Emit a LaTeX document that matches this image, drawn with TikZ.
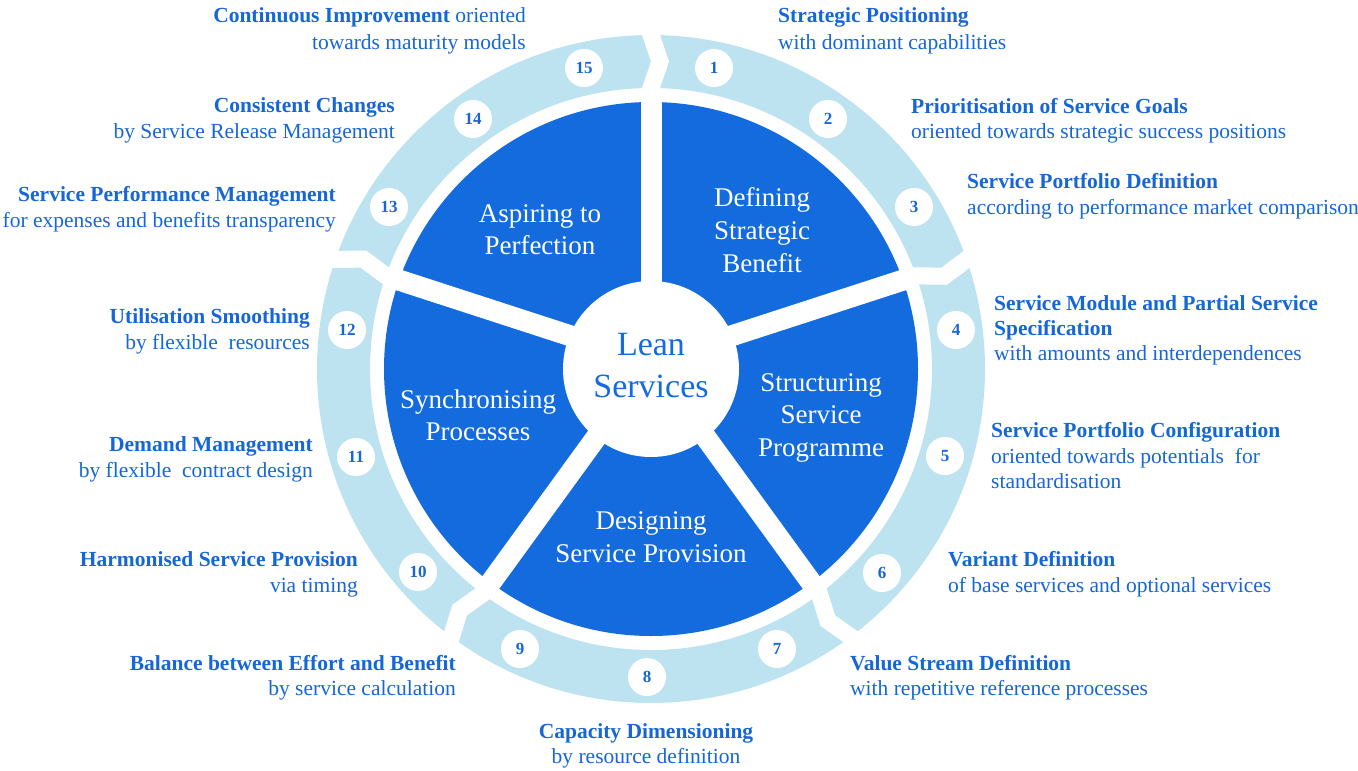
\documentclass[tikz,border=0pt]{standalone}
\usepackage{fontspec}
\setmainfont{Liberation Serif}
\usetikzlibrary{calc}
\definecolor{dkb}{RGB}{19,107,222}
\definecolor{ltb}{RGB}{190,227,240}
\definecolor{txb}{RGB}{22,102,214}
\begin{document}
\begin{tikzpicture}[x=1pt,y=1pt,
  lab/.style={inner sep=0pt, text=txb, font=\fontsize{21.5}{25.5}\selectfont},
  labr/.style={lab, anchor=base east},
  labl/.style={lab, anchor=base west},
  labc/.style={lab, anchor=base},
  sec/.style={inner sep=0pt, text=white, font=\fontsize{27}{32}\selectfont, anchor=base},
  ctr/.style={inner sep=0pt, text=dkb, font=\fontsize{34}{40}\selectfont, anchor=base},
  numc/.style={circle, fill=white, minimum size=38pt, inner sep=0pt, text=txb, font=\bfseries\fontsize{17}{17}\selectfont}]
\useasboundingbox (0,0) rectangle (1358,-771);
\coordinate (O) at (651,-369);
\coordinate (P) at (651,-362);
% dark pie
\fill[dkb] (O) circle[radius=267];
\foreach \th in {90,18,-54,-126,162} \draw[white, line width=21pt] (P) -- ++(\th:300);
% light ring
\fill[ltb, even odd rule] (O) circle[radius=334] (O) circle[radius=281];
\foreach \th/\ra/\rb in {90/274/327, 18/278.8/331.8, -54/286.6/339.6, -126/286.6/339.6, 162/278.8/331.8} {
  \pgfmathsetmacro\cc{cos(\th)}
  \pgfmathsetmacro\ss{sin(\th)}
  \pgfmathsetmacro\rmid{(\ra+\rb)/2}
  \fill[white]
    ({651+(\ra-12)*\cc-9*\ss},{-362+(\ra-12)*\ss+9*\cc}) --
    ({651+\ra*\cc-9*\ss},{-362+\ra*\ss+9*\cc}) --
    ({651+\rmid*\cc},{-362+\rmid*\ss}) --
    ({651+\rb*\cc-9*\ss},{-362+\rb*\ss+9*\cc}) --
    ({651+(\rb+12)*\cc-9*\ss},{-362+(\rb+12)*\ss+9*\cc}) --
    ({651+(\rb+12)*\cc+9*\ss},{-362+(\rb+12)*\ss-9*\cc}) --
    ({651+\rb*\cc+9*\ss},{-362+\rb*\ss-9*\cc}) --
    ({651+\rmid*\cc+18*\ss},{-362+\rmid*\ss-18*\cc}) --
    ({651+\ra*\cc+9*\ss},{-362+\ra*\ss-9*\cc}) --
    ({651+(\ra-12)*\cc+9*\ss},{-362+(\ra-12)*\ss-9*\cc}) -- cycle;
}
% centre
\fill[white] (O) circle[radius=88];
\node[ctr] (c1) at (651,-355) {Lean};
\node[ctr] (c2) at (651,-397) {Services};
% sector texts
\node[sec] (s1a) at (540,-222) {Aspiring to};
\node[sec] (s1b) at (540,-254) {Perfection};
\node[sec] (s2a) at (762,-206) {Defining};
\node[sec] (s2b) at (762,-239) {Strategic};
\node[sec] (s2c) at (762,-272) {Benefit};
\node[sec] (s3a) at (821,-391) {Structuring};
\node[sec] (s3b) at (821,-423) {Service};
\node[sec] (s3c) at (821,-456) {Programme};
\node[sec] (s4a) at (651,-529) {Designing};
\node[sec] (s4b) at (651,-562) {Service Provision};
\node[sec] (s5a) at (478,-408) {Synchronising};
\node[sec] (s5b) at (478,-440) {Processes};
% number circles
\node[numc] (n1) at (714,-68) {1};
\node[numc] (n2) at (828,-119) {2};
\node[numc] (n3) at (914,-207) {3};
\node[numc] (n4) at (956,-330) {4};
\node[numc] (n5) at (945,-456) {5};
\node[numc] (n6) at (882,-573) {6};
\node[numc] (n7) at (777,-649) {7};
\node[numc] (n8) at (647,-677) {8};
\node[numc] (n9) at (520,-649) {9};
\node[numc] (n10) at (418,-572) {10};
\node[numc] (n11) at (356,-457) {11};
\node[numc] (n12) at (347,-330) {12};
\node[numc] (n13) at (389,-207) {13};
\node[numc] (n14) at (473,-119) {14};
\node[numc] (n15) at (584,-68) {15};
% labels
\node[labr] (t15a) at (526,-23) {\textbf{Continuous Improvement} oriented};
\node[labr] (t15b) at (526,-49) {towards maturity models};
\node[labr] (t14a) at (395,-112) {\textbf{Consistent Changes}};
\node[labr] (t14b) at (395,-138) {by Service Release Management};
\node[labr] (t13a) at (336,-201) {\textbf{Service Performance Management}};
\node[labr] (t13b) at (336,-227) {for expenses and benefits transparency};
\node[labr] (t12a) at (310,-323) {\textbf{Utilisation Smoothing}};
\node[labr] (t12b) at (310,-349) {by flexible~ resources};
\node[labr] (t11a) at (313,-451) {\textbf{Demand Management}};
\node[labr] (t11b) at (313,-477) {by flexible~ contract design};
\node[labr] (t10a) at (358,-566) {\textbf{Harmonised Service Provision}};
\node[labr] (t10b) at (358,-592) {via timing};
\node[labr] (t9a) at (456,-670) {\textbf{Balance between Effort and Benefit}};
\node[labr] (t9b) at (456,-695) {by service calculation};
\node[labc] (t8a) at (646,-738) {\textbf{Capacity Dimensioning}};
\node[labc] (t8b) at (646,-763) {by resource definition};
\node[labl] (t7a) at (850,-670) {\textbf{Value Stream Definition}};
\node[labl] (t7b) at (850,-695) {with repetitive reference processes};
\node[labl] (t6a) at (948,-566) {\textbf{Variant Definition}};
\node[labl] (t6b) at (948,-592) {of base services and optional services};
\node[labl] (t5a) at (991,-437) {\textbf{Service Portfolio Configuration}};
\node[labl] (t5b) at (991,-463) {oriented towards potentials~ for};
\node[labl] (t5c) at (991,-488) {standardisation};
\node[labl] (t4a) at (994,-310) {\textbf{Service Module and Partial Service}};
\node[labl] (t4b) at (994,-335) {\textbf{Specification}};
\node[labl] (t4c) at (994,-360) {with amounts and interdependences};
\node[labl] (t3a) at (967,-188) {\textbf{Service Portfolio Definition}};
\node[labl] (t3b) at (967,-214) {according to performance market comparison};
\node[labl] (t2a) at (911,-113) {\textbf{Prioritisation of Service Goals}};
\node[labl] (t2b) at (911,-138) {oriented towards strategic success positions};
\node[labl] (t1a) at (778,-23) {\textbf{Strategic Positioning}};
\node[labl] (t1b) at (778,-49) {with dominant capabilities};
\end{tikzpicture}
\end{document}
